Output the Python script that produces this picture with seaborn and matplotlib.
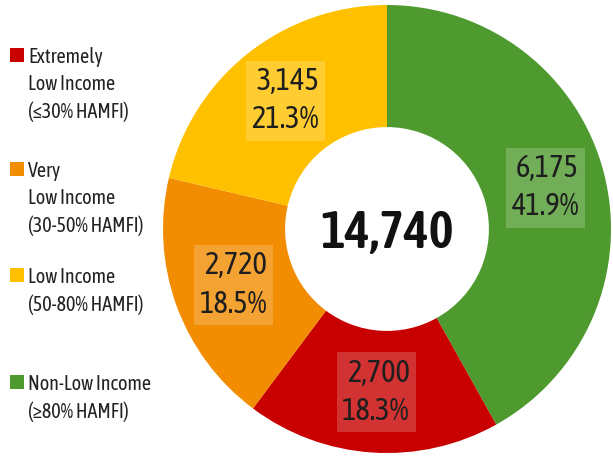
import matplotlib
matplotlib.use("Agg")
import matplotlib.pyplot as plt
from matplotlib.patches import Rectangle
import seaborn as sns

# Households by income category (HAMFI bands)
categories = [
    "Non-Low Income\n(\u226580% HAMFI)",
    "Extremely\nLow Income\n(\u226430% HAMFI)",
    "Very\nLow Income\n(30-50% HAMFI)",
    "Low Income\n(50-80% HAMFI)",
]
counts = [6175, 2700, 2720, 3145]
percents = [41.9, 18.3, 18.5, 21.3]
colors = ["#4E9A2E", "#C80000", "#F28C00", "#FFC000"]
total_label = "14,740"

# Legend order (top to bottom) as indices into the lists above
legend_order = [1, 2, 3, 0]

sns.set_theme(style="white")
plt.rcParams["font.family"] = ["Asap Condensed", "DejaVu Sans"]

W, H = 613, 457
fig = plt.figure(figsize=(W / 100, H / 100), dpi=100)
fig.patch.set_facecolor("white")

# Donut centred at (387, 229) px with a 224 px outer radius
cx, cy, R = 387, 229, 224
ax = fig.add_axes([(cx - R) / W, (H - cy - R) / H, 2 * R / W, 2 * R / H])
ax.set_aspect("equal")

total = sum(counts)


def fmt(pct):
    value = pct * total / 100.0
    idx = min(range(len(counts)), key=lambda i: abs(counts[i] - value))
    return f"{counts[idx]:,}\n{percents[idx]:.1f}%"


wedges, texts, autotexts = ax.pie(
    counts,
    colors=colors,
    startangle=90,
    counterclock=False,
    radius=1.0,
    autopct=fmt,
    pctdistance=0.73,
    wedgeprops=dict(width=0.545, linewidth=0),
    textprops=dict(fontsize=22, color="#1e1e1e"),
)
for t in autotexts:
    t.set_linespacing(1.3)
    t.set_multialignment("right")
    t.set_bbox(dict(boxstyle="square,pad=0.18", facecolor="white",
                    alpha=0.2, edgecolor="none"))

ax.text(0, -0.02, total_label, ha="center", va="center",
        fontsize=38, fontweight="semibold", color="#111111")
ax.set_xlim(-1, 1)
ax.set_ylim(-1, 1)
ax.axis("off")

# Legend drawn as coloured squares with stacked labels
square_tops = [48, 162, 268, 375]
for top, idx in zip(square_tops, legend_order):
    fig.patches.append(Rectangle((10 / W, 1 - (top + 14) / H), 14 / W, 14 / H,
                                 transform=fig.transFigure,
                                 facecolor=colors[idx], edgecolor="none"))
    fig.text(28 / W, 1 - (top - 1) / H, categories[idx], ha="left", va="top",
             fontsize=14.5, color="#222222", linespacing=1.45)

fig.savefig("out.png", dpi=100, facecolor="white")
